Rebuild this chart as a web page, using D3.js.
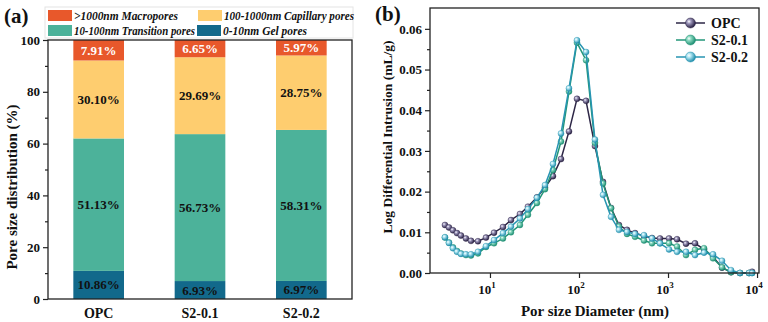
<!DOCTYPE html>
<html><head><meta charset="utf-8">
<script src="https://cdn.jsdelivr.net/npm/d3@7"></script>
<style>
html,body{margin:0;padding:0;background:#fff;}
svg text{font-family:"Liberation Serif","Times New Roman",serif;font-weight:bold;}
</style></head>
<body><svg id="c" width="768" height="322"></svg>
<script>
// ---------- Data: panel (a) ----------
const samples = ["OPC", "S2-0.1", "S2-0.2"];
const poreClasses = ["gel", "transition", "capillary", "macro"];
const poreLabels = {macro: ">1000nm Macropores", capillary: "100-1000nm Capillary pores", transition: "10-100nm Transition pores", gel: "0-10nm Gel pores"};
const gelPores = [10.86, 6.93, 6.97];
const transitionPores = [51.13, 56.73, 58.31];
const capillaryPores = [30.10, 29.69, 28.75];
const macroPores = [7.91, 6.65, 5.97];
const yTicksA = [0, 20, 40, 60, 80, 100];

// ---------- Data: panel (b) ----------
const diameters = [3.12, 3.46, 3.84, 4.26, 4.72, 5.37, 6.12, 7.33, 9.02, 11.1, 14.0, 17.2, 21.7, 26.7, 33.7, 41.5, 51.0, 62.8, 77.2, 94.9, 120, 151, 186, 229, 281, 346, 426, 537, 661, 813, 1026, 1262, 1593, 2011, 2538, 3203, 4043, 5104, 6442, 8131, 8800];
const opc =    [0.0118,0.0112,0.0105,0.0098,0.0092,0.0085,0.0079,0.0078,0.0087,0.0099,0.0113,0.0130,0.0145,0.0163,0.0186,0.0210,0.0238,0.0280,0.0348,0.0428,0.0423,0.0312,0.0224,0.0160,0.0118,0.0106,0.0098,0.0091,0.0086,0.0085,0.0085,0.0083,0.0072,0.0073,0.0058,0.0040,0.0013,0.0002,0.0000,0.0000,0.0003];
const s201 =   [0.0087,0.0075,0.0063,0.0054,0.0048,0.0044,0.0043,0.0048,0.0064,0.0073,0.0085,0.0100,0.0118,0.0143,0.0172,0.0206,0.0253,0.0323,0.0446,0.0566,0.0523,0.0320,0.0220,0.0159,0.0114,0.0096,0.0089,0.0080,0.0073,0.0073,0.0073,0.0065,0.0044,0.0057,0.0061,0.0036,0.0014,0.0002,0.0000,0.0000,0.0000];
const s202 =   [0.0088,0.0074,0.0061,0.0052,0.0047,0.0046,0.0046,0.0052,0.0066,0.0081,0.0098,0.0114,0.0134,0.0157,0.0185,0.0216,0.0268,0.0343,0.0454,0.0572,0.0543,0.0328,0.0192,0.0138,0.0106,0.0101,0.0096,0.0093,0.0085,0.0073,0.0058,0.0052,0.0052,0.0044,0.0050,0.0046,0.0030,0.0007,0.0000,0.0000,0.0000];
const seriesNames = ["OPC", "S2-0.1", "S2-0.2"];
const xTicksB = [10, 100, 1000, 10000];
const yTicksB = [0, 0.01, 0.02, 0.03, 0.04, 0.05, 0.06];

const svg = d3.select("#c");
const defs = svg.append("defs");

// ================= Panel (a) =================
const colA = {macro: "#e8582b", capillary: "#fecd6f", transition: "#4cb29a", gel: "#12698b"};
const xA = d3.scaleBand().domain(samples).range([48, 352]).paddingInner(0.5).paddingOuter(0.25);
const yA = d3.scaleLinear().domain([0, 100]).range([299, 40]);

const rows = samples.map((s, i) => ({sample: s, gel: gelPores[i], transition: transitionPores[i], capillary: capillaryPores[i], macro: macroPores[i]}));
const stack = d3.stack().keys(poreClasses)(rows);

const gA = svg.append("g");
stack.forEach(layer => {
  gA.selectAll(null).data(layer).enter().append("rect")
    .attr("x", d => xA(d.data.sample))
    .attr("width", xA.bandwidth())
    .attr("y", d => yA(d[1]))
    .attr("height", d => yA(d[0]) - yA(d[1]))
    .attr("fill", colA[layer.key]);
  gA.selectAll(null).data(layer).enter().append("text")
    .attr("x", d => xA(d.data.sample) + xA.bandwidth() / 2)
    .attr("y", d => (yA(d[0]) + yA(d[1])) / 2 + 4.5)
    .attr("text-anchor", "middle")
    .attr("font-size", 13)
    .attr("fill", layer.key === "macro" ? "#fff" : "#111")
    .text(d => (d[1] - d[0]).toFixed(2) + "%");
});

// frame
gA.append("rect").attr("x", 48).attr("y", 40).attr("width", 304).attr("height", 259)
  .attr("fill", "none").attr("stroke", "#222").attr("stroke-width", 1.3);

const axA = gA.append("g").attr("transform", "translate(48,0)")
  .call(d3.axisLeft(yA).tickValues(yTicksA).tickSize(5).tickPadding(3));
axA.select(".domain").remove();
axA.selectAll("text").attr("font-size", 13).attr("fill", "#111").style("font-family", '"Liberation Serif",serif').style("font-weight", "bold");
axA.selectAll("line").attr("stroke", "#222").attr("stroke-width", 1.2);
const axAm = gA.append("g").attr("transform", "translate(48,0)")
  .call(d3.axisLeft(yA).tickValues([10, 30, 50, 70, 90]).tickSize(3).tickFormat(""));
axAm.select(".domain").remove();
axAm.selectAll("line").attr("stroke", "#222").attr("stroke-width", 1.2);

gA.selectAll(null).data(samples).enter().append("text")
  .attr("x", d => xA(d) + xA.bandwidth() / 2).attr("y", 318)
  .attr("text-anchor", "middle").attr("font-size", 14).attr("fill", "#111").text(d => d);

gA.append("text").attr("transform", "translate(17,187) rotate(-90)")
  .attr("text-anchor", "middle").attr("font-size", 15).attr("fill", "#111")
  .text("Pore size distribution (%)");

gA.append("text").attr("x", 4).attr("y", 23).attr("font-size", 21).attr("fill", "#111").text("(a)");

// legend (a)
const legA = gA.append("g");
legA.append("rect").attr("x", 45).attr("y", 7).attr("width", 308).attr("height", 31)
  .attr("fill", "#fff").attr("stroke", "#e4e4e4").attr("stroke-width", 1);
const legItems = [
  {k: "macro", x: 48, y: 10, w: 104}, {k: "capillary", x: 198, y: 10, w: 130},
  {k: "transition", x: 48, y: 25, w: 121}, {k: "gel", x: 197, y: 25, w: 84}
];
legItems.forEach(it => {
  legA.append("rect").attr("x", it.x).attr("y", it.y).attr("width", 24).attr("height", 11).attr("fill", colA[it.k]);
  const t = legA.append("text").attr("x", it.x + 26).attr("y", it.y + 10).attr("font-size", 12.5)
    .attr("font-style", "italic").attr("fill", "#111").text(poreLabels[it.k]);
  const L = t.node().getComputedTextLength();
  if (L > it.w) t.attr("textLength", it.w).attr("lengthAdjust", "spacingAndGlyphs");
});

// ================= Panel (b) =================
const xB = d3.scaleLog().domain([2.12, 10520]).range([430, 759]);
const yB = d3.scaleLinear().domain([0, 0.065]).range([273, 8.5]);
const gB = svg.append("g");

const seriesB = [
  {name: seriesNames[0], vals: opc, line: "#2d2646", c0: "#a29cc0", c1: "#2a2244"},
  {name: seriesNames[1], vals: s201, line: "#229678", c0: "#8fdcc4", c1: "#1f8f73"},
  {name: seriesNames[2], vals: s202, line: "#2795b2", c0: "#b5e8f4", c1: "#2390ad"}
];
seriesB.forEach((s, i) => {
  const g = defs.append("radialGradient").attr("id", "ball" + i).attr("cx", "35%").attr("cy", "35%").attr("r", "65%");
  g.append("stop").attr("offset", "0%").attr("stop-color", "#fff");
  g.append("stop").attr("offset", "30%").attr("stop-color", s.c0);
  g.append("stop").attr("offset", "100%").attr("stop-color", s.c1);
});

const line = d3.line().x(d => xB(d[0])).y(d => yB(d[1]));
seriesB.forEach((s, i) => {
  const pts = diameters.map((d, j) => [d, s.vals[j]]);
  gB.append("path").datum(pts).attr("d", line).attr("fill", "none")
    .attr("stroke", s.line).attr("stroke-width", 1.5);
  gB.selectAll(null).data(pts).enter().append("circle")
    .attr("cx", d => xB(d[0])).attr("cy", d => yB(d[1])).attr("r", 3)
    .attr("fill", `url(#ball${i})`).attr("stroke", s.c1).attr("stroke-width", 0.4);
});

gB.append("rect").attr("x", 430).attr("y", 8).attr("width", 329).attr("height", 265)
  .attr("fill", "none").attr("stroke", "#222").attr("stroke-width", 1.3);

const axBy = gB.append("g").attr("transform", "translate(430,0)")
  .call(d3.axisLeft(yB).tickValues(yTicksB).tickSize(5).tickPadding(3).tickFormat(d3.format(".2f")));
axBy.select(".domain").remove();
axBy.selectAll("text").attr("font-size", 13).attr("fill", "#111").style("font-family", '"Liberation Serif",serif').style("font-weight", "bold");
axBy.selectAll("line").attr("stroke", "#222").attr("stroke-width", 1.2);
const axBym = gB.append("g").attr("transform", "translate(430,0)")
  .call(d3.axisLeft(yB).tickValues([0.005, 0.015, 0.025, 0.035, 0.045, 0.055]).tickSize(3).tickFormat(""));
axBym.select(".domain").remove();
axBym.selectAll("line").attr("stroke", "#222").attr("stroke-width", 1.2);

const axBx = gB.append("g").attr("transform", "translate(0,273)")
  .call(d3.axisBottom(xB).tickValues(xTicksB).tickSize(5).tickFormat(""));
axBx.select(".domain").remove();
axBx.selectAll("line").attr("stroke", "#222").attr("stroke-width", 1.2);
xTicksB.forEach(t => {
  const tx = gB.append("text").attr("x", xB(t) - 3).attr("y", 294).attr("text-anchor", "middle")
    .attr("font-size", 13).attr("fill", "#111");
  tx.append("tspan").text("10");
  tx.append("tspan").attr("dy", -6).attr("font-size", 9).text(String(Math.round(Math.log10(t))));
});

gB.append("text").attr("x", 595).attr("y", 316).attr("text-anchor", "middle")
  .attr("font-size", 15).attr("fill", "#111").text("Por size Diameter (nm)");
gB.append("text").attr("transform", "translate(392,137) rotate(-90)")
  .attr("text-anchor", "middle").attr("font-size", 13.5).attr("fill", "#111")
  .text("Log Differential Intrusion (mL/g)");
gB.append("text").attr("x", 375).attr("y", 21).attr("font-size", 21).attr("fill", "#111").text("(b)");

// legend (b)
seriesB.forEach((s, i) => {
  const ly = 23 + i * 17;
  gB.append("line").attr("x1", 676).attr("x2", 705).attr("y1", ly).attr("y2", ly)
    .attr("stroke", s.line).attr("stroke-width", 1.5);
  gB.append("circle").attr("cx", 690.5).attr("cy", ly).attr("r", 5)
    .attr("fill", `url(#ball${i})`).attr("stroke", s.c1).attr("stroke-width", 0.5);
  gB.append("text").attr("x", 711).attr("y", ly + 5).attr("font-size", 14).attr("fill", "#111").text(s.name);
});
</script></body></html>
